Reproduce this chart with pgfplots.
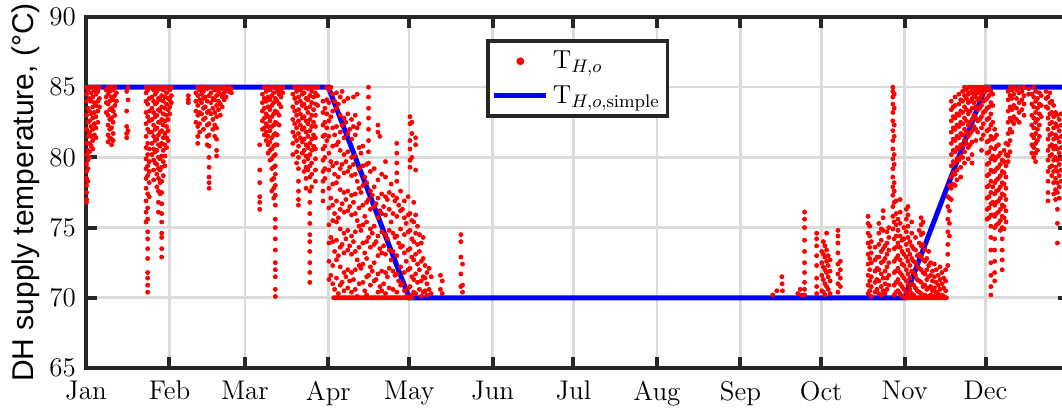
\RequirePackage{fix-cm}
\documentclass[border=0pt]{standalone}
\usepackage{fontspec}
\newfontfamily\lsans{Liberation Sans}
\usepackage{pgfplots}
\pgfplotsset{compat=1.18}
\definecolor{axc}{RGB}{38,38,38}
\pgfplotsset{
  dotleg/.style={legend image code/.code={\draw[##1] plot coordinates {(13pt,0pt)};}},
  lineleg/.style={legend image code/.code={\draw[##1] (0pt,0pt) -- (26pt,0pt);}},
}
\begin{document}
\begin{tikzpicture}
\begin{axis}[
  scale only axis, width=491.5pt, height=175.5pt,
  xmin=0, xmax=365, ymin=65, ymax=90,
  xtick={0,31,59,90,120,151,181,212,243,273,304,334},
  xticklabels={Jan,Feb,Mar,Apr,May,Jun,Jul,Aug,Sep,Oct,Nov,Dec},
  ytick={65,70,75,80,85,90},
  /pgf/number format/assume math mode=true,
  tick label style={font=\fontsize{13.5}{16}\selectfont},
  xticklabel style={yshift=-3pt},
  yticklabel style={xshift=-1.5pt},
  grid=major,
  major grid style={line width=1.3pt, color=black!14},
  axis line style={line width=2pt, color=axc},
  major tick style={line width=2pt, color=axc},
  major tick length=5.5pt,
  tick align=inside,
  ylabel={DH supply temperature, (°C)},
  ylabel style={font=\lsans\fontsize{15}{18}\selectfont, at={(rel axis cs:-0.0539,0.5)}, anchor=base},
  legend style={at={(0.407,0.937)}, anchor=north west, draw=axc, line width=1.8pt, font=\fontsize{13}{15.5}\selectfont, inner xsep=2pt, inner ysep=3pt, row sep=3pt},
  legend cell align=left,
]
\coordinate (aSW) at (rel axis cs:0,0);
\coordinate (aNW) at (rel axis cs:0,1);
\addplot[only marks, mark=*, mark size=1pt, color=red, mark options={draw=none, fill=red}, dotleg] coordinates {
(0.2,85)(0.2,84.5)(0.2,84)(0.2,83)(0.2,82)(0.2,81)(0.2,80.2)(0.2,79.5)(0.2,79)(0.2,78.5)(0.2,78)(0.2,77.5)(0.2,77)(0.2,76.8)
(0.7,84.8)(0.7,83.5)(0.7,82.5)(0.7,81.5)(0.7,80.5)(0.7,79.8)(0.7,79.2)(0.7,78.3)
(1.3,85)(1.3,84.2)(1.3,83.3)(1.3,82.6)(1.3,81.8)(1.3,81)(1.3,80.4)(1.3,80)
(1.9,84.6)(1.9,84)(1.9,83.1)(1.9,82.2)(1.9,81.5)(1.9,80.8)
(2.5,85)(2.5,84.3)(2.5,83.6)(2.5,82.8)(2.5,82)(2.5,81.2)(2.5,80.6)
(3.1,84.8)(3.1,83.9)(3.1,83.2)(3.1,82.4)(3.1,81.6)
(3.7,85)(3.7,84.5)(3.7,83.7)(3.7,82.9)(3.7,82.1)(3.7,81.4)
(4.4,84.7)(4.4,84)(4.4,83.3)(4.4,82.5)
(5,85)(5,84.2)(5,83.6)
(7.5,84.8)(7.5,84.3)(7.5,83.9)(7.5,83.2)
(8.2,85)(8.2,84.5)(8.2,83.8)(8.2,83)(8.2,82.3)(8.2,81.6)(8.2,81.1)
(8.8,84.7)(8.8,84)(8.8,83.4)(8.8,82.7)(8.8,82)(8.8,81.4)
(9.5,85)(9.5,84.3)(9.5,83.5)(9.5,82.8)(9.5,82.1)(9.5,81.3)(9.5,80.9)
(10.1,84.8)(10.1,84.1)(10.1,83.3)(10.1,82.5)(10.1,81.7)(10.1,81.2)
(10.7,85)(10.7,84.4)(10.7,83.7)(10.7,83)
(11.3,84.6)(11.3,84)
(15.1,84.7)(15.1,83.3)(15.1,82.2)(15.1,81.7)(15.1,81.4)
(15.6,85)(15.6,84.1)(15.6,81.9)
(22.3,85)(22.3,84.6)(22.3,84)(22.3,83.2)(22.3,82.4)(22.3,81.5)(22.3,80.7)(22.3,79.9)(22.3,79.2)(22.3,78.5)(22.3,77.8)(22.3,76.9)(22.3,76.1)(22.3,75.4)
(22.9,84.8)(22.9,83.8)(22.9,82.9)(22.9,82)(22.9,81)(22.9,80.2)(22.9,79.4)(22.9,78.7)(22.9,77.4)(22.9,76.4)(22.9,75.6)(22.9,74.7)(22.9,74.2)(22.9,73.5)(22.9,72.8)(22.9,71.8)(22.9,71.4)(22.9,70.9)(22.9,70.4)
(23.5,85)(23.5,84.2)(23.5,83.3)(23.5,82.6)(23.5,81.8)(23.5,80.6)(23.5,79.7)(23.5,79)(23.5,78.2)(23.5,77.2)
(24.5,85)(24.5,84.3)(24.5,83.5)(24.5,82.7)(24.5,81.8)(24.5,81)(24.5,80.2)
(25.1,84.8)(25.1,84)(25.1,83.2)(25.1,82.3)(25.1,81.5)(25.1,80.6)(25.1,79.8)(25.1,79.1)(25.1,78.4)
(25.7,85)(25.7,84.5)(25.7,83.8)(25.7,82.9)(25.7,82)(25.7,81.2)(25.7,80.4)(25.7,79.6)
(26.3,84.7)(26.3,83.9)(26.3,83)(26.3,82.1)(26.3,81.3)(26.3,80.5)(26.3,79.5)(26.3,78.8)(26.3,77.9)
(26.9,85)(26.9,84.2)(26.9,83.4)(26.9,82.5)(26.9,81.6)(26.9,80.9)(26.9,80)(26.9,79.2)(26.9,78.5)(26.9,77.6)(26.9,76.8)(26.9,76.1)
(27.5,84.9)(27.5,84.1)(27.5,83.3)(27.5,82.5)(27.5,81.8)(27.5,80.8)(27.5,79.9)(27.5,79.1)(27.5,78.2)(27.5,77.4)
(28.1,85)(28.1,84.4)(28.1,83.6)(28.1,82.7)(28.1,81.9)(28.1,81)(28.1,80.1)(28.1,79.3)(28.1,78.3)(28.1,77.5)(28.1,76.7)(28.1,76)(28.1,75.4)(28.1,74.6)(28.1,74.3)(28.1,73.5)(28.1,72.9)
(28.7,84.8)(28.7,84)(28.7,83.1)(28.7,82.3)(28.7,81.4)(28.7,80.5)(28.7,79.7)(28.7,78.7)
(29.3,85)(29.3,84.3)(29.3,83.5)(29.3,82.6)(29.3,81.7)(29.3,80.9)(29.3,80.1)(29.3,79.4)
(29.9,84.6)(29.9,83.8)(29.9,83)(29.9,82.2)(29.9,81.4)(29.9,80.7)
(30.5,85)(30.5,84.2)(30.5,83.4)(30.5,82.7)(30.5,81.9)(30.5,81.2)
(31.1,84.8)(31.1,84.1)(31.1,83.6)(31.1,83.1)
(31.7,85)(31.7,84.4)(31.7,83.9)
(38,84.4)(38,84.1)(38,83.9)
(40.8,84.6)(40.8,84)(40.8,83.3)(40.8,82.5)
(41.5,85)(41.5,84.4)(41.5,83.7)(41.5,83)(41.5,82.2)(41.5,81.5)(41.5,81)
(42.2,84.8)(42.2,84.1)(42.2,83.2)(42.2,82.4)(42.2,81.8)
(42.9,85)(42.9,84.5)(42.9,83.9)(42.9,83.1)
(43.6,84.7)(43.6,84.2)(43.6,83.5)(43.6,82.7)(43.6,82)
(44.3,85)(44.3,84.3)(44.3,83.6)(44.3,82.8)
(45,84.9)(45,84)(45,83.2)(45,82.3)(45,81.5)(45,80.9)
(45.7,85)(45.7,84.4)(45.7,83.3)(45.7,82.4)(45.7,81.6)(45.7,80.8)(45.7,80)(45.7,79.3)(45.7,78.6)(45.7,78.2)(45.7,77.8)
(46.4,84.6)(46.4,83.9)(46.4,83.1)
(47.1,85)(47.1,84.2)(47.1,83.5)(47.1,82.7)(47.1,82)
(47.8,84.8)(47.8,84.1)(47.8,83.2)(47.8,82.3)(47.8,81.5)
(48.5,85)(48.5,84.4)(48.5,83.7)(48.5,82.9)(48.5,82.1)(48.5,81.3)(48.5,80.5)(48.5,80.1)
(49.2,84.7)(49.2,84)(49.2,83.4)
(49.9,85)(49.9,84.5)(49.9,83.8)(49.9,83)
(50.6,84.9)(50.6,84.3)(50.6,83.6)
(51.3,85)(51.3,84.6)(51.3,84.1)
(52,84.8)(52,84.3)
(53,85)(53,84.7)
(54,84.9)(54,84.6)
(64.5,80.9)(64.5,79.1)(64.5,78.2)(64.5,77.2)(64.5,76.8)(64.5,76.3)
(65.5,84.5)(65.5,83.9)(65.5,83.3)(65.5,82.6)(65.5,82)
(66.2,85)(66.2,84.2)(66.2,83.5)(66.2,82.8)(66.2,82.1)(66.2,81.6)
(66.9,84.7)(66.9,84)(66.9,83.1)(66.9,82.4)(66.9,81.8)(66.9,81.2)
(67.6,85)(67.6,84.3)(67.6,83.6)(67.6,82.9)(67.6,82.2)(67.6,81.5)(67.6,80.9)(67.6,80.3)
(68.3,84.8)(68.3,84.1)(68.3,83.4)(68.3,82.6)(68.3,81.9)(68.3,81.1)(68.3,80.5)(68.3,79.8)
(69,85)(69,84.4)(69,83.7)(69,82.9)(69,82.2)(69,81.4)(69,80.6)(69,79.9)(69,79.2)(69,78.4)(69,77.6)
(69.7,84.6)(69.7,83.9)(69.7,83.1)(69.7,82.3)(69.7,81.6)(69.7,80.8)(69.7,80.1)(69.7,79.3)(69.7,78.5)(69.7,77.8)(69.7,77.1)
(70.3,85)(70.3,84.2)(70.3,83.3)(70.3,82.5)(70.3,81.7)(70.3,80.9)(70.3,80.2)(70.3,79.4)(70.3,78.8)(70.3,78)(70.3,77.3)(70.3,76.6)(70.3,75.6)(70.3,75)(70.3,74.2)(70.3,73.4)(70.3,72.5)(70.3,72)(70.3,71.5)(70.3,70.6)(70.3,70.1)
(71,84.7)(71,84)(71,83.2)(71,82.4)(71,81.6)(71,80.9)
(71.7,85)(71.7,84.5)(71.7,83.8)(71.7,83)(71.7,82.3)
(72.4,84.8)(72.4,84.3)(72.4,83.6)
(73.1,85)(73.1,84.6)
(76.8,84.5)(76.8,83.6)(76.8,82.7)(76.8,81.8)(76.8,81)(76.8,80.2)
(77.5,85)(77.5,84.2)(77.5,83.3)(77.5,82.4)(77.5,81.5)
(78.2,84.7)(78.2,83.9)(78.2,83)(78.2,82.1)(78.2,81.2)(78.2,80.4)(78.2,79.6)
(78.9,85)(78.9,84.3)(78.9,83.4)(78.9,82.6)(78.9,81.7)(78.9,80.8)(78.9,80)(78.9,79.2)(78.9,78.3)(78.9,77.6)(78.9,77)(78.9,76.6)
(79.6,84.8)(79.6,84)(79.6,83.1)(79.6,82.3)(79.6,81.4)
(80.3,85)(80.3,84.5)(80.3,83.7)(80.3,82.8)(80.3,82)(80.3,81.1)(80.3,80.3)
(81,84.6)(81,83.8)(81,82.9)(81,82.1)(81,81.3)(81,80.5)(81,79.7)(81,79)
(81.7,85)(81.7,84.2)(81.7,83.5)(81.7,82.6)(81.7,81.8)(81.7,80.9)(81.7,80.1)(81.7,79.3)(81.7,78.5)(81.7,77.8)
(82.4,84.9)(82.4,84.1)(82.4,83.2)(82.4,82.4)(82.4,81.5)(82.4,80.7)(82.4,79.9)(82.4,79.1)
(83.1,85)(83.1,84.4)(83.1,83.6)(83.1,82.7)(83.1,81.9)(83.1,81)(83.1,80.2)(83.1,79.4)(83.1,78.6)(83.1,77.6)(83.1,76.8)(83.1,76)(83.1,75.3)(83.1,74.5)(83.1,74)(83.1,73.3)(83.1,72.5)(83.1,71.8)(83.1,71.1)
(83.8,84.7)(83.8,83.9)(83.8,83)(83.8,82.2)(83.8,81.3)(83.8,80.5)(83.8,79.6)(83.8,78.8)(83.8,77.9)
(84.5,85)(84.5,84.3)(84.5,83.4)(84.5,82.5)(84.5,81.6)(84.5,80.8)
(85.2,84.6)(85.2,83.8)(85.2,83)(85.2,82.2)(85.2,81.4)(85.2,80.6)(85.2,79.9)(85.2,79.1)(85.2,78.3)
(86,85)(86,84.4)(86,83.7)
(88,84)(88,83.2)(88,82.3)(88,81.5)(88,80.6)(88,79.8)(88,79)(88,78.3)(88,77.6)(88,76.9)
(88.7,83.5)(88.7,82.5)(88.7,81.6)(88.7,80.8)(88.7,80)(88.7,79.2)(88.7,78.5)
(89.4,85)(89.4,84.1)(89.4,83.1)(89.4,82.1)(89.4,81.2)
(90.2,84.8)(90.2,83.9)(90.2,82.6)(90.2,81.5)(90.2,80.3)(90.2,79.1)(90.2,77.8)(90.2,76.4)(90.2,75.2)(90.2,73.9)(90.2,72.6)(90.2,71.3)
(90.9,85)(90.9,82.9)(90.9,79.7)(90.9,77.1)(90.9,74.3)(90.9,71.6)
(91.6,84.5)(91.6,83.3)(91.6,82.1)(91.6,80.8)(91.6,79.4)(91.6,78.1)(91.6,76.6)(91.6,75.5)(91.6,74)(91.6,72.3)(91.6,71)
(92.3,84)(92.3,81.6)(92.3,78.8)(92.3,76)(92.3,73.3)(92.3,70.6)
(93,84.6)(93,83.5)(93,82.2)(93,80.9)(93,79.6)(93,78.2)(93,76.9)(93,75.4)(93,74.1)(93,72.7)(93,71.4)
(93.7,83.8)(93.7,81.1)(93.7,78.6)(93.7,75.7)(93.7,73)(93.7,70.3)
(94.4,84.3)(94.4,83)(94.4,81.8)(94.4,80.5)(94.4,79.2)(94.4,77.7)(94.4,76.3)(94.4,74.9)(94.4,73.6)(94.4,72.2)(94.4,70.9)
(95.1,84.7)(95.1,82.3)(95.1,79.5)(95.1,76.7)(95.1,73.8)(95.1,71.1)
(95.8,84)(95.8,82.8)(95.8,81.4)(95.8,80.2)(95.8,78.9)(95.8,77.5)(95.8,76.1)(95.8,74.6)(95.8,73.2)(95.8,71.8)(95.8,70.5)
(96.5,82.5)(96.5,79.7)(96.5,77)(96.5,74.2)(96.5,71.5)
(97.2,84.2)(97.2,83.1)(97.2,81.7)(97.2,80.4)(97.2,79)(97.2,77.6)(97.2,76.2)(97.2,74.8)(97.2,73.4)(97.2,72)(97.2,70.7)
(97.9,82)(97.9,79.3)(97.9,76.5)(97.9,73.7)(97.9,71.2)
(98.6,82.7)(98.6,81.3)(98.6,80)(98.6,78.7)(98.6,77.3)(98.6,75.9)(98.6,74.4)(98.6,73.1)(98.6,71.8)(98.6,70.4)
(99.3,84.3)(99.3,82.2)(99.3,79.5)(99.3,76.8)(99.3,74)(99.3,71.3)
(100,83)(100,81.6)(100,80.1)(100,78.8)(100,77.4)(100,76)(100,74.7)(100,73.3)(100,72)(100,70.6)
(100.7,84.5)(100.7,82.1)(100.7,78.3)(100.7,75.5)(100.7,72.7)(100.7,70.1)
(101.4,82.4)(101.4,80.7)(101.4,79.2)(101.4,77.8)(101.4,76.4)(101.4,75.1)(101.4,73.6)(101.4,72.3)(101.4,71)
(102.1,80.3)(102.1,77.5)(102.1,74.8)(102.1,72.1)
(102.8,80.8)(102.8,79.4)(102.8,78)(102.8,76.6)(102.8,75.2)(102.8,73.9)(102.8,72.4)(102.8,71.1)
(103.5,78.6)(103.5,75.8)(103.5,73.2)(103.5,70.5)
(104.2,79.5)(104.2,78.2)(104.2,76.8)(104.2,75.4)(104.2,74)(104.2,72.8)(104.2,71.5)(104.2,70.2)
(104.9,85)(104.9,84.3)(104.9,83.5)(104.9,82.8)(104.9,82)(104.9,81.2)(104.9,80.4)(104.9,79.6)(104.9,77)(104.9,74.3)(104.9,71.6)
(105.6,79)(105.6,77.6)(105.6,76.3)(105.6,74.9)(105.6,73.6)(105.6,72.2)(105.6,70.9)
(106.3,77.3)(106.3,74.6)(106.3,71.9)
(107,79.2)(107,77.9)(107,76.5)(107,75.1)(107,73.8)(107,72.5)(107,71.2)
(107.7,76.7)(107.7,74)(107.7,71.3)
(108.4,82.3)(108.4,81.8)(108.4,78.4)(108.4,77.1)(108.4,75.7)(108.4,74.4)(108.4,73)(108.4,71.7)(108.4,70.4)
(109.1,81.5)(109.1,76.2)(109.1,73.5)(109.1,70.8)
(109.8,78.8)(109.8,77.4)(109.8,76)(109.8,74.7)(109.8,73.2)(109.8,71.9)(109.8,70.5)
(110.5,76.5)(110.5,73.7)(110.5,71)
(111.2,79.7)(111.2,78.6)(111.2,77.2)(111.2,75.9)(111.2,74.5)(111.2,73.1)(111.2,71.8)(111.2,70.3)
(111.9,77)(111.9,74.2)(111.9,71.5)
(112.6,77.5)(112.6,76.3)(112.6,74.8)(112.6,73.4)(112.6,72.1)(112.6,70.7)
(113.3,78.1)(113.3,75.4)(113.3,72.7)
(114,77.3)(114,76)(114,74.6)(114,73.3)(114,71.9)(114,70.6)
(114.7,76.9)(114.7,74.3)(114.7,71.6)
(115.4,81)(115.4,80.3)(115.4,79.6)(115.4,78.9)(115.4,78.3)(115.4,77.1)(115.4,75.8)(115.4,74.4)(115.4,73)(115.4,71.7)(115.4,70.4)
(116.1,76.6)(116.1,73.9)(116.1,71.2)
(116.8,77.6)(116.8,76.2)(116.8,74.9)(116.8,73.6)(116.8,72.2)(116.8,70.9)
(117.5,76.3)(117.5,73.7)(117.5,71)
(118.2,76.9)(118.2,75.7)(118.2,74.5)(118.2,73.2)(118.2,71.8)(118.2,70.5)
(118.9,75.3)(118.9,72.6)(118.9,70.1)
(119.6,77.2)(119.6,75.9)(119.6,74.7)(119.6,73.4)(119.6,72)(119.6,70.7)
(120.3,82.9)(120.3,82.4)(120.3,81.2)(120.3,80.6)(120.3,79.8)(120.3,79.3)(120.3,76)(120.3,74.8)(120.3,73.5)(120.3,72.1)(120.3,70.8)
(121,82.5)(121,81.7)(121,80)(121,75.5)(121,74.2)(121,72.9)(121,71.5)(121,70.2)
(121.7,76.8)(121.7,75.4)(121.7,74)(121.7,72.7)(121.7,71.3)(121.7,70.4)
(122.4,81.4)(122.4,80.9)(122.4,79.1)(122.4,75.9)(122.4,74.6)(122.4,73.1)(122.4,71.7)(122.4,70.3)
(123.1,75.1)(123.1,73.8)(123.1,72.4)(123.1,71.1)
(123.8,74.5)(123.8,73.3)(123.8,72)(123.8,70.6)
(124.5,73.9)(124.5,72.6)(124.5,71.2)(124.5,70.1)
(125.2,74.3)(125.2,72.8)(125.2,71.5)(125.2,70.4)
(125.9,72.3)(125.9,71.4)(125.9,70.5)
(126.6,71.8)(126.6,71)(126.6,70.2)
(127.4,72.1)(127.4,70.6)
(128.2,71.5)(128.2,70.3)
(131.6,71.6)(131.6,70.6)
(132.3,71.2)(132.3,70.3)
(139.2,74.5)(139.2,74)(139.2,72.9)(139.2,71.7)(139.2,70.8)
(139.8,72.4)(139.8,70.9)(139.8,70.4)
(92,70)(92.5,70)(93,70)(93.5,70)(94,70)(94.5,70)(95,70)(95.5,70)(96,70)(96.5,70)(97,70)(97.5,70)(98,70)(98.5,70)(99,70)(99.5,70)
(100,70)(100.5,70)(101,70)(101.5,70)(102,70)(102.5,70)(103,70)(103.5,70)(104,70)(104.5,70)(105,70)(105.5,70)(106,70)(106.5,70)(107,70)(107.5,70)
(108,70)(108.5,70)(109,70)(109.5,70)(110,70)(110.5,70)(111,70)(111.5,70)(112,70)(112.5,70)(113,70)(113.5,70)(114,70)(114.5,70)(115,70)(115.5,70)
(116,70)(116.5,70)(117,70)(117.5,70)(118,70)(118.5,70)(119,70)(119.5,70)(120,70)(120.5,70)(121,70)
(255,70.2)(256.5,70.5)(258.4,71.5)(258.5,71)(258.6,70.5)
(264.3,70.3)(265.2,70.6)(265.8,70.2)
(266.8,76.1)(266.8,75.6)(266.8,75)(266.8,74.1)(266.8,73.3)(266.8,72.5)(266.8,71.8)(266.8,71.1)(266.8,70.6)(266.8,70.2)
(271.3,74.6)(271.3,74.2)(271.3,73.7)(271.3,73)(271.3,72.3)(271.3,71.4)(271.3,70.8)(271.3,70.3)
(273.2,73.3)(273.2,72.5)(273.2,71.6)(273.2,70.5)
(273.8,74)(273.8,73.1)(273.8,72.2)(273.8,71.3)(273.8,70.4)
(274.4,73.7)(274.4,72.9)(274.4,72)(274.4,71)(274.4,70.2)
(275,74.6)(275,73.4)(275,72.6)(275,71.8)(275,70.8)
(275.6,73)(275.6,72.3)(275.6,71.5)(275.6,70.6)
(276.3,72.7)(276.3,71.9)(276.3,71.2)(276.3,70.3)
(279.2,74.8)(279.2,74.4)(279.2,73.9)(279.2,73.2)(279.2,72.4)(279.2,71.7)(279.2,71)(279.2,70.4)
(280.1,72.6)(280.1,72)(280.1,71.4)(280.1,70.8)
(290.4,75.8)(290.4,75.3)(290.4,74.6)(290.4,73.9)(290.4,73.1)(290.4,72.4)(290.4,71.6)(290.4,70.9)(290.4,70.3)
(291,75.1)(291,74.4)(291,73.6)(291,72.8)(291,72)(291,71.2)(291,70.5)
(291.6,74)(291.6,73.2)(291.6,72.5)(291.6,71.5)(291.6,70.8)(291.6,70.1)
(293,73.6)(293,72.7)(293,71.9)(293,71.1)(293,70.4)
(293.7,72.9)(293.7,72.1)(293.7,71.3)(293.7,70.6)
(294.4,75.3)(294.4,74.6)(294.4,73.8)(294.4,72.9)(294.4,72)(294.4,71.2)(294.4,70.3)
(295.3,74.9)(295.3,74.1)(295.3,73.3)(295.3,72.5)(295.3,71.7)(295.3,70.8)(295.3,70.2)
(296,76.2)(296,75.7)(296,74.8)(296,73.5)(296,72.6)(296,71.4)(296,70.5)
(296.7,73.7)(296.7,72.8)(296.7,71.9)(296.7,71)(296.7,70.3)
(297.4,74.7)(297.4,73.9)(297.4,73.1)(297.4,72.2)(297.4,71.4)(297.4,70.6)
(298.1,75)(298.1,74.3)(298.1,73.4)(298.1,72.5)(298.1,71.6)(298.1,70.9)
(299.6,85)(299.6,84.7)(299.6,84.3)(299.6,83.8)(299.6,83.2)(299.6,82.6)(299.6,81.9)(299.6,81.2)(299.6,80.6)(299.6,79.9)(299.6,79.2)(299.6,78.6)(299.6,77.9)(299.6,77.3)(299.6,76.5)(299.6,75.8)(299.6,74.9)
(300.1,84.5)(300.1,83.5)(300.1,82.3)(300.1,81.5)(300.1,80.2)(300.1,79.5)(300.1,78.2)(300.1,77.6)(300.1,76.8)(300.1,75.4)(300.1,74.2)(300.1,73.5)(300.1,72.6)(300.1,71.8)(300.1,70.9)(300.1,70.2)
(300.8,76.9)(300.8,76)(300.8,75.2)(300.8,74.4)(300.8,73.6)(300.8,72.8)(300.8,71.9)(300.8,71.1)(300.8,70.4)
(301.5,75.6)(301.5,74.8)(301.5,73.9)(301.5,73)(301.5,72.1)(301.5,71.3)(301.5,70.5)
(302.3,77)(302.3,76.1)(302.3,75.3)(302.3,74.4)(302.3,73.6)(302.3,72.7)(302.3,71.8)(302.3,71)(302.3,70.3)
(303,74.1)(303,73.3)(303,72.4)(303,71.6)(303,70.8)(303,70.1)
(303.7,75)(303.7,74.2)(303.7,73.1)(303.7,72.3)(303.7,71.4)(303.7,70.6)
(304.6,76.3)(304.6,75.6)(304.6,74.7)(304.6,73.8)(304.6,72.9)(304.6,72)(304.6,71.2)(304.6,70.4)
(305.2,76.5)(305.2,75.9)(305.2,75.1)(305.2,74.3)(305.2,73.4)(305.2,72.6)(305.2,71.7)(305.2,70.9)(305.2,70.2)
(305.9,74)(305.9,73.1)(305.9,72.3)(305.9,71.4)(305.9,70.6)
(306.6,75.4)(306.6,74.6)(306.6,73.7)(306.6,72.8)(306.6,71.9)(306.6,71)(306.6,70.3)
(307.3,73.5)(307.3,72.6)(307.3,71.8)(307.3,70.9)(307.3,70.2)
(308,74.3)(308,73.4)(308,72.5)(308,71.6)(308,70.7)
(308.7,73)(308.7,72.2)(308.7,71.3)(308.7,70.5)
(309.4,74.8)(309.4,73.9)(309.4,73.1)(309.4,72.1)(309.4,71.2)(309.4,70.4)
(310.1,75.7)(310.1,75.2)(310.1,74.5)(310.1,73.7)(310.1,72.9)(310.1,72)(310.1,71.1)(310.1,70.3)
(310.8,75.4)(310.8,74.6)(310.8,73.8)(310.8,72.7)(310.8,71.8)(310.8,70.8)
(311.5,73.4)(311.5,72.6)(311.5,71.7)(311.5,70.9)(311.5,70.2)
(312.2,72.8)(312.2,72)(312.2,71.3)(312.2,70.6)
(312.9,73.3)(312.9,72.3)(312.9,71.5)(312.9,70.7)(312.9,70.1)
(313.6,72.5)(313.6,71.6)(313.6,70.8)(313.6,70.2)
(314.3,71.9)(314.3,71.2)(314.3,70.5)
(315,72.4)(315,71.5)(315,70.7)(315,70.1)
(315.7,72)(315.7,71.1)(315.7,70.4)
(316.4,71.6)(316.4,70.9)(316.4,70.3)
(317.1,72.2)(317.1,71.3)(317.1,70.6)
(317.8,71.8)(317.8,71)(317.8,70.2)
(318.5,71.4)(318.5,70.7)(318.5,70.1)
(319.2,72)(319.2,71.2)(319.2,70.5)
(304,70)(304.5,70)(305,70)(305.5,70)(306,70)(306.5,70)(307,70)(307.5,70)(308,70)(308.5,70)(309,70)(309.5,70)(310,70)(310.5,70)(311,70)(311.5,70)
(312,70)(312.5,70)(313,70)(313.5,70)(314,70)(314.5,70)(315,70)(315.5,70)(316,70)(316.5,70)(317,70)(317.5,70)(318,70)(318.5,70)(319,70)(319.5,70)
(320,77.2)(320,76.5)(320,75.6)(320,74.7)(320,73.8)(320,73.1)(320,72.3)
(320.6,78)(320.6,77.1)(320.6,76.2)(320.6,75.3)(320.6,74.4)
(321.3,84)(321.3,83.4)(321.3,82.6)(321.3,81.8)(321.3,81)(321.3,80.2)(321.3,79.4)(321.3,78.6)(321.3,77.8)(321.3,77)
(322,83.6)(322,82.9)(322,82.1)(322,81.3)(322,80.5)(322,79.7)(322,78.9)(322,78.1)
(322.7,84.3)(322.7,83.7)(322.7,82.8)(322.7,82)(322.7,81.2)(322.7,80.4)(322.7,79.6)(322.7,78.8)(322.7,78)
(323.4,83.1)(323.4,82.3)(323.4,81.5)(323.4,80.7)(323.4,79.9)(323.4,79.1)(323.4,78.4)
(324.1,84.5)(324.1,83.8)(324.1,83)(324.1,82.2)(324.1,81.4)(324.1,80.6)(324.1,79.8)
(324.8,84.1)(324.8,83.3)(324.8,82.5)(324.8,81.7)(324.8,80.9)(324.8,80.1)(324.8,79.3)(324.8,78.6)
(325.5,84.7)(325.5,84)(325.5,83.2)(325.5,82.4)(325.5,81.6)(325.5,80.8)(325.5,80)
(326.2,85)(326.2,84.4)(326.2,83.6)(326.2,82.8)(326.2,82)(326.2,81.2)(326.2,80.4)(326.2,79.6)
(326.9,84.8)(326.9,84.2)(326.9,83.4)(326.9,82.6)(326.9,81.8)(326.9,81)
(327.6,85)(327.6,84.5)(327.6,83.9)(327.6,83.1)(327.6,82.3)(327.6,81.5)(327.6,80.7)(327.6,79.9)
(328.3,85)(328.3,84.6)(328.3,84)(328.3,83.3)(328.3,82.5)(328.3,81.7)(328.3,80.9)
(329,85)(329,84.7)(329,84.2)(329,83.5)(329,82.7)(329,81.9)(329,81.1)(329,80.2)(329,79.6)
(329.7,85)(329.7,84.5)(329.7,83.9)(329.7,83)(329.7,82.2)
(330.4,85)(330.4,84.8)(330.4,84.3)(330.4,83.6)(330.4,82.8)(330.4,82)(330.4,81.2)
(331.1,85)(331.1,84.6)(331.1,84.1)(331.1,83.4)(331.1,82.6)(331.1,81.8)
(331.8,85)(331.8,84.7)(331.8,84.2)(331.8,83.5)(331.8,82.7)
(332.5,85)(332.5,84.8)(332.5,84.4)(332.5,83.7)(332.5,82.9)(332.5,82.1)(332.5,81.3)(332.5,80.5)
(333.2,85)(333.2,84.6)(333.2,84)(333.2,83.2)(333.2,82.4)(333.2,81.6)
(333.9,85)(333.9,84.7)(333.9,84.1)(333.9,83.3)
(334.6,84.8)(334.6,84.2)(334.6,83.5)(334.6,82.7)(334.6,81.9)(334.6,81.1)(334.6,80.3)(334.6,79.5)(334.6,78.7)(334.6,77.9)(334.6,77.1)(334.6,76.3)(334.6,75.6)
(335.3,85)(335.3,84.4)(335.3,83.6)(335.3,82.8)(335.3,82)(335.3,81.2)(335.3,80.4)(335.3,79.6)(335.3,78.8)(335.3,78)(335.3,77.2)(335.3,76.4)(335.3,75.7)
(336,84.7)(336,83.9)(336,83.1)(336,82.3)(336,81.5)(336,80.7)(336,79.9)(336,79.1)(336,78.3)(336,77.5)(336,76.7)(336,75.9)(336,75.1)(336,74.3)(336,73.4)(336,72.5)(336,71.6)(336,70.8)(336,70.2)
(336.7,84.5)(336.7,83.7)(336.7,82.5)(336.7,81.3)(336.7,80.1)(336.7,79)(336.7,77.9)(336.7,76.8)(336.7,75.9)
(337.4,82)(337.4,81.4)(337.4,80.6)(337.4,79.8)(337.4,79)(337.4,78.2)(337.4,77.4)(337.4,76.6)(337.4,75.8)(337.4,75)(337.4,74.2)(337.4,73.4)(337.4,72.6)(337.4,71.8)(337.4,71.2)
(338.1,81.6)(338.1,80.8)(338.1,80)(338.1,79.2)(338.1,78.4)(338.1,77.6)(338.1,76.8)(338.1,76)(338.1,75.2)
(338.8,80.9)(338.8,80.1)(338.8,79.3)(338.8,78.5)(338.8,77.7)(338.8,76.9)(338.8,76.1)(338.8,75.3)
(339.5,80.3)(339.5,79.5)(339.5,78.7)(339.5,77.9)(339.5,77.1)(339.5,76.3)(339.5,75.5)(339.5,74.8)
(340.2,79.8)(340.2,79)(340.2,78.2)(340.2,77.4)(340.2,76.6)(340.2,75.8)(340.2,75)(340.2,74.2)(340.2,73.4)(340.2,72.7)(340.2,72)
(340.9,80.5)(340.9,79.7)(340.9,78.9)(340.9,78.1)(340.9,77.3)(340.9,76.5)(340.9,75.7)(340.9,74.9)
(341.6,81)(341.6,80.2)(341.6,79.4)(341.6,78.6)(341.6,77.8)(341.6,77)(341.6,76.2)(341.6,75.4)
(342.4,84.7)(342.4,84.1)(342.4,83.3)(342.4,82.5)(342.4,81.7)(342.4,80.9)(342.4,80.1)(342.4,79.7)
(343.1,85)(343.1,84.4)(343.1,83.6)(343.1,82.8)(343.1,82)(343.1,81.2)(343.1,80.4)
(343.8,84.8)(343.8,84.2)(343.8,83.4)(343.8,82.6)(343.8,81.8)
(344.5,85)(344.5,84.5)(344.5,83.7)(344.5,82.9)(344.5,82.4)
(345.5,84.8)(345.5,84.2)(345.5,83.5)(345.5,82.7)
(346.5,85)(346.5,84.6)(346.5,83.9)(346.5,83.2)(346.5,82.5)
(347.5,84.7)(347.5,84.1)(347.5,83.4)
(348.3,85)(348.3,84.4)(348.3,83.8)(348.3,83)
(350,84.9)(350,84.5)
(351.2,84.5)(351.2,83.8)(351.2,83)(351.2,82.3)(351.2,81.6)(351.2,80.9)(351.2,80.3)
(351.9,85)(351.9,84.3)(351.9,83.6)(351.9,82.8)(351.9,82.1)(351.9,81.4)(351.9,80.7)(351.9,80)
(352.6,84.7)(352.6,84)(352.6,83.2)(352.6,82.5)(352.6,81.7)(352.6,81)(352.6,80.3)(352.6,79.7)
(353.3,84.2)(353.3,83.5)(353.3,82.7)(353.3,82)(353.3,81.2)(353.3,80.5)
(354,84.6)(354,83.8)(354,83.1)(354,82.3)(354,81.5)
(354.7,84.4)(354.7,83.7)(354.7,82.9)
(356.5,84.7)(356.5,84.2)(356.5,83.6)
(357.2,84.3)(357.2,83.5)(357.2,82.8)(357.2,82)(357.2,81.3)(357.2,80.5)(357.2,79.8)(357.2,79)(357.2,78.3)(357.2,77.5)(357.2,76.9)
(357.9,84.6)(357.9,83.9)(357.9,83.1)(357.9,82.4)(357.9,81.6)(357.9,80.8)(357.9,80.1)(357.9,79.3)
(358.6,84)(358.6,83.2)(358.6,82.5)(358.6,81.7)(358.6,80.9)(358.6,80.2)(358.6,79.4)(358.6,78.7)
(359.3,83.7)(359.3,82.9)(359.3,82.1)(359.3,81.3)(359.3,80.6)(359.3,79.8)(359.3,79)(359.3,78.2)(359.3,77.4)
(360,83.2)(360,82.4)(360,81.6)(360,80.8)(360,80)(360,79.3)(360,78.5)(360,77.7)(360,77)
(360.7,83)(360.7,82.2)(360.7,81.4)(360.7,80.6)(360.7,79.8)(360.7,79)(360.7,78.2)(360.7,77.5)(360.7,76.3)(360.7,75.3)(360.7,73.9)
(361.4,82.7)(361.4,81.9)(361.4,81.1)(361.4,80.3)(361.4,79.5)(361.4,78.7)(361.4,77.9)(361.4,77.1)
(362.1,83.1)(362.1,82.3)(362.1,81.5)(362.1,80.7)(362.1,79.9)(362.1,79.1)(362.1,78.3)
};
\addlegendentry{T$_{H,o}$}
\addplot[color=blue, line width=2.5pt, lineleg] coordinates {
(0,85)(90,85)(120,70)(304,70)(334,85)(365,85)
};
\addlegendentry{T$_{H,o,\mathrm{simple}}$}
\end{axis}
\pgfresetboundingbox
\path[use as bounding box] ([shift={(-43pt,-21pt)}]aSW) rectangle ([shift={(488pt,8.5pt)}]aNW);
\end{tikzpicture}
\end{document}
